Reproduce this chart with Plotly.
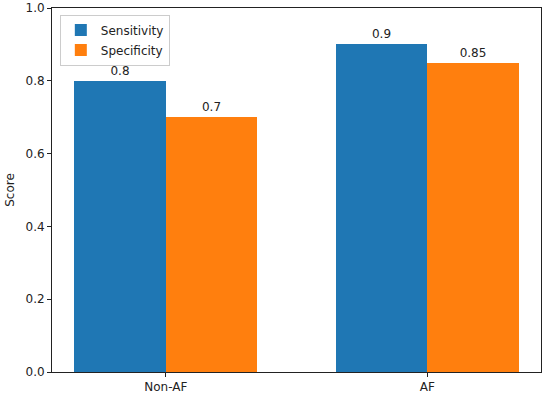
import plotly.graph_objects as go

categories = ["Non-AF", "AF"]
sensitivity = [0.8, 0.9]
specificity = [0.7, 0.85]
x_pos = [0, 1]
width = 0.35

fig = go.Figure()
fig.add_trace(go.Bar(
    x=[p - width / 2 for p in x_pos], y=sensitivity, width=width,
    name="Sensitivity", legendgroup="a", marker=dict(color="#1f77b4", line=dict(width=0)),
    text=[str(v) for v in sensitivity], textposition="outside",
    textfont=dict(size=12, color="#222"), cliponaxis=False,
))
fig.add_trace(go.Bar(
    x=[p + width / 2 for p in x_pos], y=specificity, width=width,
    name="Specificity", legendgroup="b", marker=dict(color="#ff7f0e", line=dict(width=0)),
    text=[str(v) for v in specificity], textposition="outside",
    textfont=dict(size=12, color="#222"), cliponaxis=False,
))

axis_common = dict(
    showline=True, linecolor="#222", linewidth=1, mirror=True, automargin=False,
    ticks="outside", ticklen=4, tickcolor="#222", showgrid=False, zeroline=False,
    tickfont=dict(size=12, color="#222"),
)
fig.update_layout(
    width=550, height=398,
    margin=dict(l=52, r=9, t=8, b=26, autoexpand=False),
    paper_bgcolor="white", plot_bgcolor="white",
    font=dict(family="DejaVu Sans", size=12, color="#222"),
    barmode="overlay", bargap=0,
    xaxis=dict(range=[-0.435, 1.435], tickvals=x_pos, ticktext=categories, **axis_common),
    yaxis=dict(range=[0, 1.0], tickvals=[0, 0.2, 0.4, 0.6, 0.8, 1.0],
               ticktext=["0.0", "0.2", "0.4", "0.6", "0.8", "1.0"],
               title=dict(text="Score", font=dict(size=12), standoff=8), **axis_common),
    legend=dict(x=0.016, y=0.982, xanchor="left", yanchor="top",
                bordercolor="#cccccc", borderwidth=1, bgcolor="white",
                font=dict(size=12), tracegroupgap=1),
    showlegend=True,
)
fig.write_html("out.html", config={"displayModeBar": False},
               post_script="document.body.style.margin='0';")
